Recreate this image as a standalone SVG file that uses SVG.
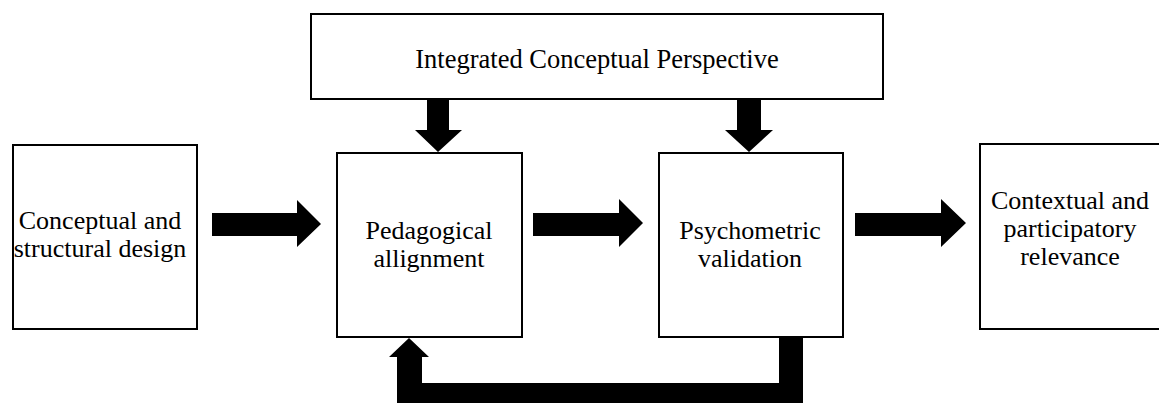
<svg xmlns="http://www.w3.org/2000/svg" width="1159" height="403" viewBox="0 0 1159 403">
<style>
.box{fill:#fff;stroke:#000;stroke-width:2}
.t{font-family:"Liberation Serif","Times New Roman",serif;font-size:26px;fill:#000;text-anchor:middle}
.arr{fill:#000;stroke:none}
</style>
<rect width="1159" height="403" fill="#fff"/>
<g id="top">
<rect class="box" x="311" y="14" width="572" height="85"/>
<text class="t" x="597" y="68" style="font-size:26.5px">Integrated Conceptual Perspective</text>
</g>
<g id="design">
<rect class="box" x="13" y="145" width="184" height="184"/>
<text class="t" x="100" y="229">Conceptual and</text>
<text class="t" x="100" y="257">structural design</text>
</g>
<g id="pedagogical">
<rect class="box" x="337" y="153" width="185" height="184"/>
<text class="t" x="429" y="239">Pedagogical</text>
<text class="t" x="429" y="267">allignment</text>
</g>
<g id="psychometric">
<rect class="box" x="659" y="153" width="184" height="184"/>
<text class="t" x="750" y="239">Psychometric</text>
<text class="t" x="750" y="267">validation</text>
</g>
<g id="relevance">
<rect class="box" x="980" y="144" width="184" height="185"/>
<text class="t" x="1070" y="209">Contextual and</text>
<text class="t" x="1070" y="237">participatory</text>
<text class="t" x="1070" y="265">relevance</text>
</g>
<g id="connectors">
<polygon class="arr" points="212,213 297,213 297,200 321,224 297,247 297,236 212,236"/>
<polygon class="arr" points="533,213 619,213 619,199 643,223 619,247 619,236 533,236"/>
<polygon class="arr" points="855,213 941,213 941,199 966,223 941,247 941,236 855,236"/>
<polygon class="arr" points="427,100 449,100 449,130 462,130 438,152 415,130 427,130"/>
<polygon class="arr" points="737,100 761,100 761,130 773,130 749,152 725,130 737,130"/>
<polygon class="arr" points="779,338 803,338 803,403 397,403 397,357 389,357 409,338 429,357 422,357 422,383 779,383"/>
</g>
</svg>
